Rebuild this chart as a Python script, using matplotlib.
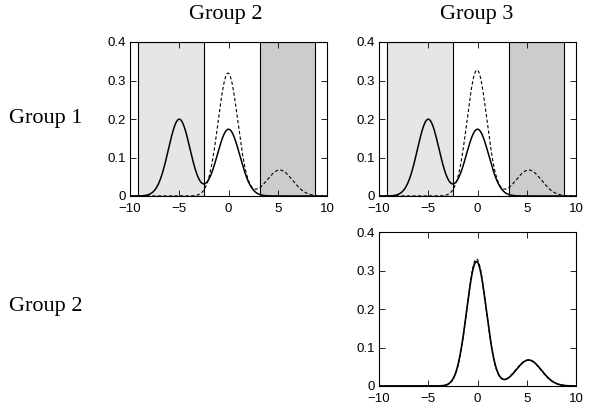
import numpy as np
import matplotlib.pyplot as plt

# data: gaussian mixture components (mean, sd, weight)
solid_top = {"mean": [-5.0, 0.0], "sd": [1.1, 1.15], "w": [0.55, 0.5]}
dashed_top_a = {"mean": [-0.05, 5.2], "sd": [1.0, 1.3], "w": [0.80, 0.22]}
dashed_top_b = {"mean": [-0.05, 5.2], "sd": [1.0, 1.3], "w": [0.82, 0.22]}
solid_bottom = {"mean": [-0.1, 5.2], "sd": [1.0, 1.3], "w": [0.81, 0.22]}
dashed_bottom = {"mean": [-0.1, 5.15], "sd": [0.98, 1.3], "w": [0.81, 0.22]}

# shaded regions (x ranges) in the top panels
light_region = [-9.2, -2.5]
dark_region = [3.2, 8.8]

col_titles = ["Group 2", "Group 3"]
row_titles = ["Group 1", "Group 2"]
xticks = [-10, -5, 0, 5, 10]
xlabels = ["\u221210", "\u22125", "0", "5", "10"]
yticks = [0, 0.1, 0.2, 0.3, 0.4]
ylabels = ["0", "0.1", "0.2", "0.3", "0.4"]

x = np.linspace(-10, 10, 801)


def mixture(p):
    y = np.zeros_like(x)
    for m, s, w in zip(p["mean"], p["sd"], p["w"]):
        y += w * np.exp(-0.5 * ((x - m) / s) ** 2) / (s * np.sqrt(2 * np.pi))
    return y


def style(ax):
    ax.set_xlim(-10, 10)
    ax.set_ylim(0, 0.4)
    ax.set_xticks(xticks)
    ax.set_xticklabels(xlabels)
    ax.set_yticks(yticks)
    ax.set_yticklabels(ylabels)
    ax.tick_params(direction="in", top=True, right=True, length=4, width=0.6,
                   labelsize=9.5)
    ax.tick_params(axis="x", pad=5)
    ax.tick_params(axis="y", pad=3)
    for sp in ax.spines.values():
        sp.set_linewidth(0.8)
    for lab in ax.get_xticklabels() + ax.get_yticklabels():
        lab.set_fontfamily("Liberation Sans")


fig = plt.figure(figsize=(5.92, 4.18), dpi=100)
W, H = 592.0, 418.0

ax1 = fig.add_axes([130 / W, 1 - 196 / H, 197 / W, 154 / H])
ax2 = fig.add_axes([379 / W, 1 - 196 / H, 197 / W, 154 / H])
ax3 = fig.add_axes([379 / W, 1 - 386 / H, 197 / W, 154 / H])

for ax, dashed in [(ax1, dashed_top_a), (ax2, dashed_top_b)]:
    ax.axvspan(light_region[0], light_region[1], facecolor="#e6e6e6",
               edgecolor="black", linewidth=0.8, zorder=0)
    ax.axvspan(dark_region[0], dark_region[1], facecolor="#cccccc",
               edgecolor="black", linewidth=0.8, zorder=0)
    ax.plot(x, mixture(dashed), color="black", linestyle="--", linewidth=0.8,
            dashes=(3, 2))
    ax.plot(x, mixture(solid_top), color="black", linewidth=1.1)
    style(ax)

ax3.plot(x, mixture(dashed_bottom), color="black", linestyle="--", linewidth=0.8,
         dashes=(3, 2))
ax3.plot(x, mixture(solid_bottom), color="black", linewidth=1.2)
style(ax3)

# column / row headings
fig.text(226 / W, 1 - 15 / H, col_titles[0], ha="center", va="center",
         family="Liberation Serif", fontsize=16)
fig.text(477 / W, 1 - 15 / H, col_titles[1], ha="center", va="center",
         family="Liberation Serif", fontsize=16)
fig.text(46 / W, 1 - 118 / H, row_titles[0], ha="center", va="center",
         family="Liberation Serif", fontsize=16)
fig.text(46 / W, 1 - 306 / H, row_titles[1], ha="center", va="center",
         family="Liberation Serif", fontsize=16)

fig.savefig("out.png", dpi=100)
